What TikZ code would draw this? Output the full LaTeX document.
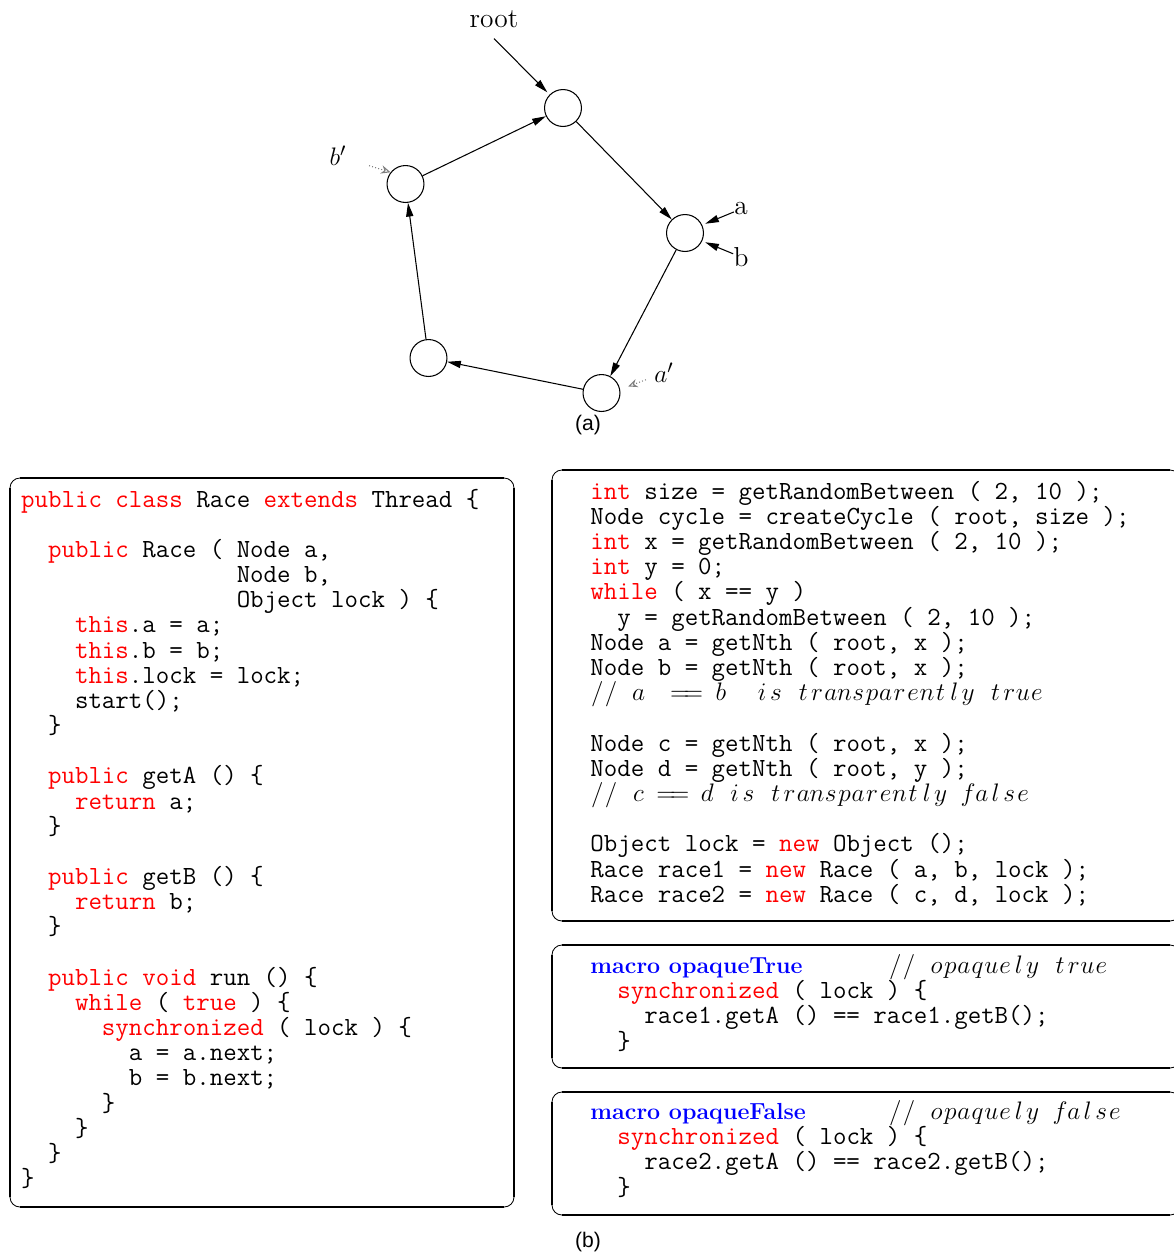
\documentclass[tikz,border=0pt]{standalone}
\usepackage{fontspec}
\usetikzlibrary{arrows.meta}

\newfontfamily\capfont{Liberation Sans}
\definecolor{kwred}{RGB}{255,0,0}
\definecolor{macblue}{RGB}{0,0,255}

\newlength\cw
\setlength\cw{6.51pt}
\newcommand\kw[1]{{\color{kwred}#1}}
\newcommand\mac[1]{{\color{macblue}\rmfamily\bfseries\fontsize{11}{12}\selectfont #1}}
% comment text: one math italic letter per column
\def\cmtstop{cmtstop-marker}
\newcommand\cmt[1]{\cmtloop#1\cmtstop}
\def\cmtloop#1{\ifx\cmtstop#1\else\ifx~#1\hbox to\cw{}\else\hbox to\cw{\hss$#1$\hss}\fi\expandafter\cmtloop\fi}
% listing frame: thick sides, thin round corners
\newcommand\codeframe[4]{%
  \draw[line width=0.4pt,rounded corners=4.7pt] (#1,#2) rectangle (#3,#4);
  \draw[line width=1.3pt] (#1+10,#2) -- (#3-10,#2) (#3,#2+10) -- (#3,#4-10)
    (#3-10,#4) -- (#1+10,#4) (#1,#4-10) -- (#1,#2+10);
}

\tikzset{
  vtx/.style={circle,draw,line width=0.5pt,minimum size=17.5pt,inner sep=0pt},
  cyc/.style={-{Triangle[length=6.5pt,width=3.4pt]},line width=0.5pt},
  ptr/.style={cyc,shorten >=1.5pt},
  ghost/.style={densely dotted,gray,line width=0.5pt,-{Stealth[open,length=4.5pt,width=4pt]}},
  lbl/.style={font=\fontsize{13}{15}\selectfont,inner sep=0pt},
  codeln/.style={anchor=base west,inner sep=0pt,font=\fontsize{12.4}{12.4}\ttfamily\frenchspacing},
  captxt/.style={font=\capfont\fontsize{10}{12}\selectfont,inner sep=0pt}
}

\begin{document}
\begin{tikzpicture}[x=0.4738pt,y=-0.4738pt]
  \useasboundingbox (0,0) rectangle (1174,1254);

  % (a) the cycle
  \node[vtx] (top) at (563,108) {};
  \node[vtx] (rgt) at (685,233) {};
  \node[vtx] (bot) at (601.5,393) {};
  \node[vtx] (low) at (428.5,358) {};
  \node[vtx] (lft) at (405.5,184) {};

  \draw[cyc] (top) -- (rgt);
  \draw[cyc] (rgt) -- (bot);
  \draw[cyc] (bot) -- (low);
  \draw[cyc] (low) -- (lft);
  \draw[cyc] (lft) -- (top);

  \node[lbl] (rootlab) at (494,19) {root};
  \node[lbl] (alab) at (741,209) {a};
  \node[lbl] (blab) at (741,257) {b};
  \node[lbl] (bplab) at (338,156) {$b'$};
  \node[lbl] (aplab) at (664,373) {$a'$};

  \draw[ptr] ([yshift=-5pt]rootlab.south) -- (top.135);
  \draw[ptr] (alab) -- (rgt.25);
  \draw[ptr] (blab) -- (rgt.-25);
  \draw[ghost,shorten <=11pt] (bplab) -- (lft.142);
  \draw[ghost,shorten <=4pt,shorten >=4pt] (aplab) -- (bot.11);

  \node[captxt] (capa) at (588,425) {(a)};

  % (b) the listings
  \codeframe{10}{478}{514}{1207}
  \codeframe{552}{470}{1180}{921}
  \codeframe{552}{945}{1180}{1068}
  \codeframe{552}{1092}{1180}{1215}

  \foreach \src [count=\i] in {
    {\kw{public} \kw{class} Race \kw{extends} Thread \{},
    {},
    {~~\kw{public} Race ( Node a,},
    {~~~~~~~~~~~~~~~~Node b,},
    {~~~~~~~~~~~~~~~~Object lock ) \{},
    {~~~~\kw{this}.a = a;},
    {~~~~\kw{this}.b = b;},
    {~~~~\kw{this}.lock = lock;},
    {~~~~start();},
    {~~\}},
    {},
    {~~\kw{public} getA () \{},
    {~~~~\kw{return} a;},
    {~~\}},
    {},
    {~~\kw{public} getB () \{},
    {~~~~\kw{return} b;},
    {~~\}},
    {},
    {~~\kw{public} \kw{void} run () \{},
    {~~~~\kw{while} ( \kw{true} ) \{},
    {~~~~~~\kw{synchronized} ( lock ) \{},
    {~~~~~~~~a = a.next;},
    {~~~~~~~~b = b.next;},
    {~~~~~~\}},
    {~~~~\}},
    {~~\}},
    {\}}}
    \node[codeln] (race\i) at (20.7,{507+25.17*(\i-1)}) {\src};

  \foreach \src [count=\i] in {
    {\kw{int} size = getRandomBetween ( 2, 10 );},
    {Node cycle = createCycle ( root, size );},
    {\kw{int} x = getRandomBetween ( 2, 10 );},
    {\kw{int} y = 0;},
    {\kw{while} ( x == y )},
    {~~y = getRandomBetween ( 2, 10 );},
    {Node a = getNth ( root, x );},
    {Node b = getNth ( root, x );},
    {\cmt{//~a~~==~b~~is~transparently~true}},
    {},
    {Node c = getNth ( root, x );},
    {Node d = getNth ( root, y );},
    {\cmt{//~c~==~d~is~transparently~false}},
    {},
    {Object lock = \kw{new} Object ();},
    {Race race1 = \kw{new} Race ( a, b, lock );},
    {Race race2 = \kw{new} Race ( c, d, lock );}}
    \node[codeln] (main\i) at (590,{499+25.2*(\i-1)}) {\src};

  \node[codeln] (trumac) at (590,973.5) {\mac{macro opaqueTrue}};
  \node[codeln] (trucmt) at (888,973.5) {\cmt{//~opaquely~true}};
  \node[codeln] (tru1) at (590,998.7) {~~\kw{synchronized} ( lock ) \{};
  \node[codeln] (tru2) at (590,1023.9) {~~~~race1.getA () == race1.getB();};
  \node[codeln] (tru3) at (590,1049.1) {~~\}};

  \node[codeln] (falmac) at (590,1119.5) {\mac{macro opaqueFalse}};
  \node[codeln] (falcmt) at (888,1119.5) {\cmt{//~opaquely~false}};
  \node[codeln] (fal1) at (590,1144.7) {~~\kw{synchronized} ( lock ) \{};
  \node[codeln] (fal2) at (590,1169.9) {~~~~race2.getA () == race2.getB();};
  \node[codeln] (fal3) at (590,1195.1) {~~\}};

  \node[captxt] (capb) at (588,1242) {(b)};
\end{tikzpicture}
\end{document}
